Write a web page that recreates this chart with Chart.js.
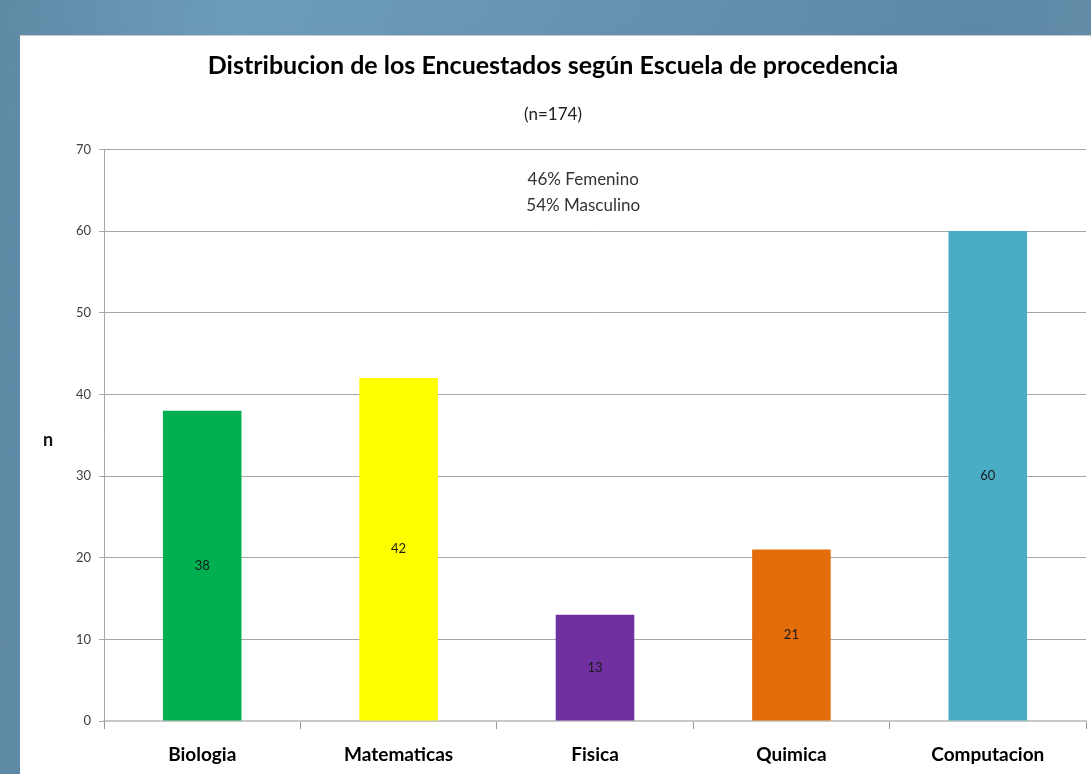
<!DOCTYPE html>
<html>
<head>
<meta charset="utf-8">
<script src="https://cdn.jsdelivr.net/npm/chart.js@4/dist/chart.umd.min.js"></script>
<style>
  html, body { margin: 0; padding: 0; }
  body {
    width: 1091px; height: 774px; overflow: hidden; position: relative;
    background: linear-gradient(100deg, #5f8aa6 0%, #6d9dbb 20%, #6592b0 50%, #5d89a6 80%, #6890ab 100%);
  }
  #shade {
    position: absolute; left: 0; top: 0; width: 1091px; height: 774px;
    background: linear-gradient(to bottom, rgba(0,0,0,0) 0%, rgba(30,50,70,0.12) 100%);
  }
  #panel {
    position: absolute; left: 20px; top: 35px; width: 1071px; height: 739px;
    background: #fff; border-top: 1px solid #c8c8c8;
  }
  canvas { display: block; }
</style>
</head>
<body>
<div id="shade"></div>
<div id="panel"><canvas id="chart" width="1071" height="739"></canvas></div>
<script>
const categories = ['Biologia', 'Matematicas', 'Fisica', 'Quimica', 'Computacion'];
const counts = [38, 42, 13, 21, 60];
const barColors = ['#00B050', '#FFFF00', '#7030A0', '#E46C0A', '#4BACC6'];
const yTicks = [0, 10, 20, 30, 40, 50, 60, 70];
const notes = ['46% Femenino', '54% Masculino'];

const FONT = 'Lato, "Open Sans", sans-serif';

// value labels in the middle of each bar, plus the gender note and the "n" axis label
const extras = {
  id: 'extras',
  afterDatasetsDraw(chart) {
    const { ctx, chartArea } = chart;
    const meta = chart.getDatasetMeta(0);
    ctx.save();
    ctx.font = '13px ' + FONT;
    ctx.fillStyle = '#1a1a1a';
    ctx.textAlign = 'center';
    ctx.textBaseline = 'middle';
    meta.data.forEach((bar, i) => {
      const p = bar.getCenterPoint();
      ctx.fillText(String(counts[i]), p.x, p.y);
    });

    ctx.font = '17px ' + FONT;
    ctx.fillStyle = '#333';
    const cx = chartArea.left + chartArea.width * 0.488;
    notes.forEach((t, i) => ctx.fillText(t, cx, chartArea.top + 30 + i * 26));

    ctx.font = 'bold 18px ' + FONT;
    ctx.fillStyle = '#111';
    ctx.fillText('n', 28, (chartArea.top + chartArea.bottom) / 2 + 5);
    ctx.restore();
  }
};

new Chart(document.getElementById('chart').getContext('2d'), {
  type: 'bar',
  data: {
    labels: categories,
    datasets: [{
      data: counts,
      backgroundColor: barColors,
      borderWidth: 0,
      barPercentage: 0.4,
      categoryPercentage: 1,
    }]
  },
  options: {
    responsive: false, animation: false,
    layout: { padding: { left: 0, right: 5, top: 0, bottom: 0 } },
    plugins: {
      legend: { display: false },
      tooltip: { enabled: false },
      title: {
        display: true, text: 'Distribucion de los Encuestados según Escuela de procedencia',
        color: '#000', font: { family: FONT, size: 25, weight: 'bold', lineHeight: 1.2 },
        padding: { top: 15, bottom: 23 }
      },
      subtitle: {
        display: true, text: '(n=174)',
        color: '#222', font: { family: FONT, size: 17, lineHeight: 1.2 },
        padding: { top: 0, bottom: 25 }
      }
    },
    scales: {
      x: {
        offset: true,
        grid: { display: true, offset: true, drawOnChartArea: false, drawTicks: true, tickLength: 8, color: '#999' },
        border: { color: '#c8c8c8', width: 2 },
        ticks: { color: '#000', font: { family: FONT, size: 19, weight: 'bold' }, padding: 14 },
        afterFit: s => { s.height = 54; }
      },
      y: {
        min: 0, max: 70,
        afterBuildTicks: s => { s.ticks = yTicks.map(v => ({ value: v })); },
        grid: { color: '#a6a6a6', tickLength: 5, drawTicks: true },
        border: { color: '#a6a6a6' },
        ticks: { color: '#404040', font: { family: FONT, size: 13 }, padding: 8 },
        afterFit: s => { s.width = 84; }
      }
    }
  },
  plugins: [extras]
});
</script>
</body>
</html>
